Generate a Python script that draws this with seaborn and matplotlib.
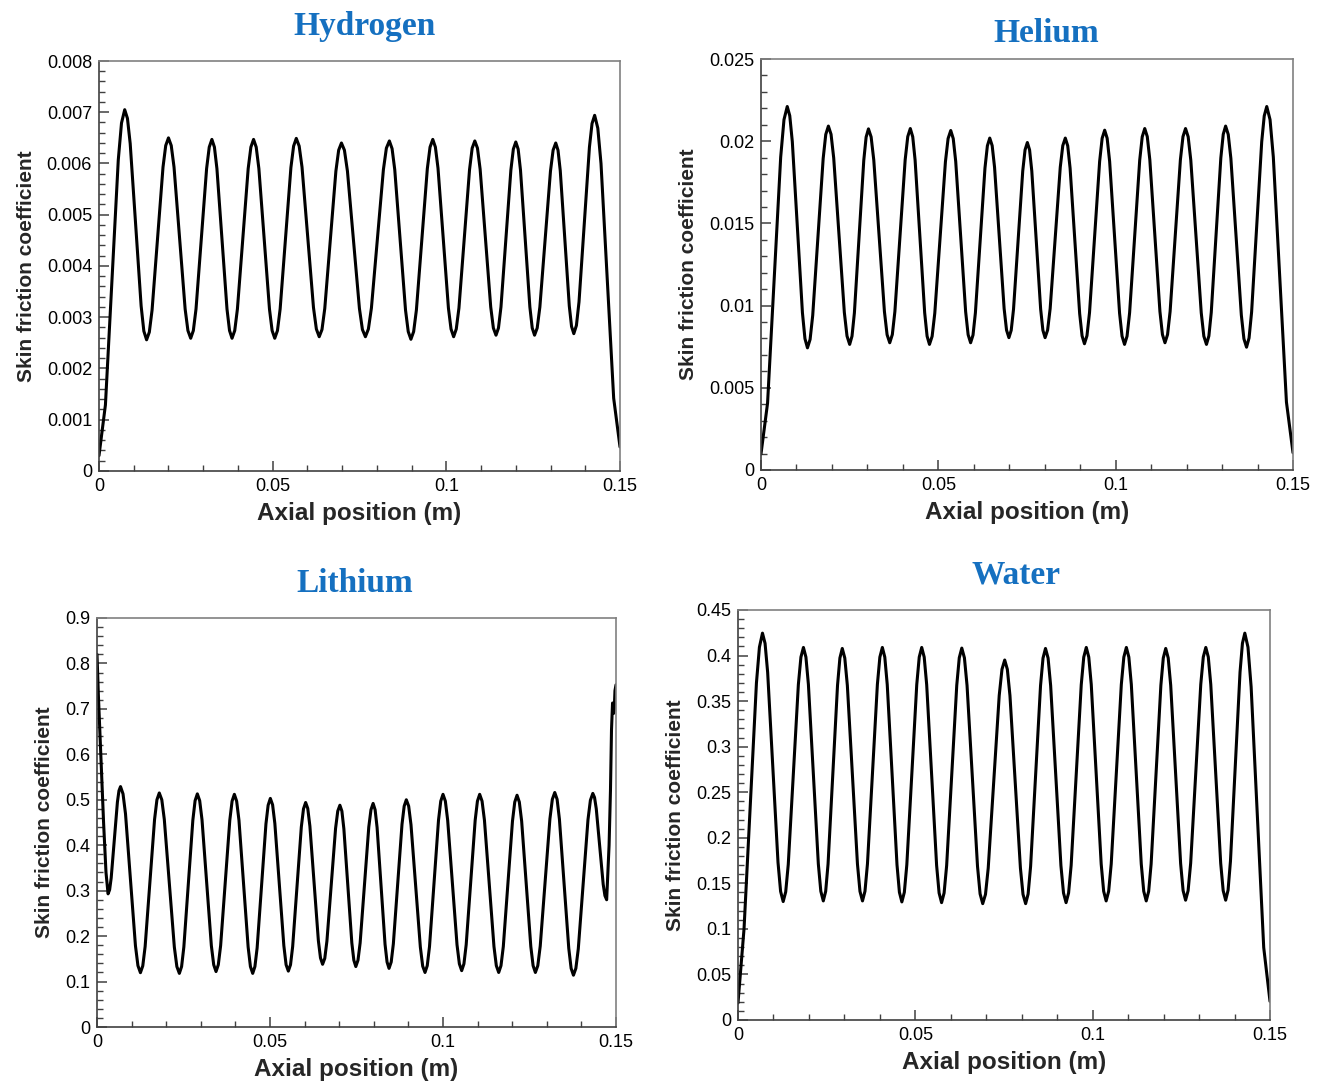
import matplotlib
matplotlib.use("Agg")
import matplotlib.pyplot as plt
from matplotlib.ticker import MultipleLocator, FuncFormatter
import seaborn as sns
import pandas as pd

# ---- Skin friction coefficient along the axial position (m) ----
hydrogen_x = [0.0,
              0.00185, 0.00555, 0.00648, 0.0074,
              0.00819, 0.00898, 0.01213, 0.01291, 0.0137,
              0.01449, 0.01528, 0.01843, 0.01921, 0.0200,
              0.0208, 0.0216, 0.0248, 0.0256, 0.0264,
              0.02716, 0.02793, 0.03098, 0.03174, 0.0325,
              0.03323, 0.03395, 0.03685, 0.03758, 0.0383,
              0.03908, 0.03985, 0.04295, 0.04373, 0.0445,
              0.04526, 0.04603, 0.04908, 0.04984, 0.0506,
              0.05138, 0.05215, 0.05525, 0.05603, 0.0568,
              0.05763, 0.05845, 0.06175, 0.06258, 0.0634,
              0.0642, 0.0650, 0.0682, 0.0690, 0.0698,
              0.07066, 0.07153, 0.07498, 0.07584, 0.0767,
              0.07756, 0.07843, 0.08188, 0.08274, 0.0836,
              0.08438, 0.08515, 0.08825, 0.08903, 0.0898,
              0.09059, 0.09138, 0.09453, 0.09531, 0.0961,
              0.09685, 0.0976, 0.1006, 0.10135, 0.1021,
              0.10286, 0.10363, 0.10668, 0.10744, 0.1082,
              0.10896, 0.10973, 0.11278, 0.11354, 0.1143,
              0.11501, 0.11573, 0.11858, 0.11929, 0.1200,
              0.12068, 0.12135, 0.12405, 0.12473, 0.1254,
              0.12616, 0.12693, 0.12998, 0.13074, 0.1315,
              0.13215, 0.1328, 0.1354, 0.13605, 0.1367,
              0.13745, 0.1382, 0.1412, 0.14195, 0.1427,
              0.14361, 0.14453, 0.14818, 0.1500]
hydrogen_cf = [0.00030,
               0.00129, 0.00607, 0.00679, 0.00705,
               0.00688, 0.00639, 0.00322, 0.00273, 0.00256,
               0.00271, 0.00314, 0.00593, 0.00635, 0.00650,
               0.00635, 0.00593, 0.00316, 0.00274, 0.00259,
               0.00274, 0.00316, 0.00590, 0.00632, 0.00647,
               0.00632, 0.00590, 0.00316, 0.00274, 0.00259,
               0.00274, 0.00316, 0.00590, 0.00632, 0.00647,
               0.00632, 0.00590, 0.00316, 0.00274, 0.00259,
               0.00274, 0.00316, 0.00592, 0.00634, 0.00649,
               0.00634, 0.00593, 0.00319, 0.00277, 0.00262,
               0.00276, 0.00317, 0.00585, 0.00626, 0.00640,
               0.00626, 0.00585, 0.00317, 0.00276, 0.00262,
               0.00277, 0.00318, 0.00588, 0.00630, 0.00644,
               0.00629, 0.00588, 0.00314, 0.00272, 0.00257,
               0.00272, 0.00314, 0.00590, 0.00632, 0.00647,
               0.00632, 0.00591, 0.00318, 0.00277, 0.00262,
               0.00277, 0.00318, 0.00588, 0.00630, 0.00644,
               0.00630, 0.00589, 0.00320, 0.00279, 0.00265,
               0.00279, 0.00320, 0.00587, 0.00628, 0.00642,
               0.00628, 0.00587, 0.00320, 0.00279, 0.00265,
               0.00279, 0.00320, 0.00585, 0.00626, 0.00640,
               0.00626, 0.00586, 0.00322, 0.00282, 0.00268,
               0.00284, 0.00330, 0.00632, 0.00678, 0.00694,
               0.00669, 0.00600, 0.00142, 0.00047]

helium_x = [0.0,
            0.00185, 0.00555, 0.00648, 0.0074,
            0.00811, 0.00883, 0.01168, 0.01239, 0.0131,
            0.01384, 0.01458, 0.01753, 0.01826, 0.0190,
            0.01975, 0.0205, 0.0235, 0.02425, 0.0250,
            0.02566, 0.02633, 0.02898, 0.02964, 0.0303,
            0.03105, 0.0318, 0.0348, 0.03555, 0.0363,
            0.03703, 0.03775, 0.04065, 0.04138, 0.0421,
            0.04278, 0.04345, 0.04615, 0.04683, 0.0475,
            0.04825, 0.0490, 0.0520, 0.05275, 0.0535,
            0.0542, 0.0549, 0.0577, 0.0584, 0.0591,
            0.05978, 0.06045, 0.06315, 0.06383, 0.0645,
            0.06518, 0.06585, 0.06855, 0.06923, 0.0699,
            0.07055, 0.0712, 0.0738, 0.07445, 0.0751,
            0.07573, 0.07635, 0.07885, 0.07948, 0.0801,
            0.08081, 0.08153, 0.08438, 0.08509, 0.0858,
            0.08648, 0.08715, 0.08985, 0.09053, 0.0912,
            0.09191, 0.09263, 0.09548, 0.09619, 0.0969,
            0.0976, 0.0983, 0.1011, 0.1018, 0.1025,
            0.10321, 0.10393, 0.10678, 0.10749, 0.1082,
            0.10891, 0.10963, 0.11248, 0.11319, 0.1139,
            0.11463, 0.11535, 0.11825, 0.11898, 0.1197,
            0.12044, 0.12118, 0.12413, 0.12486, 0.1256,
            0.12628, 0.12695, 0.12965, 0.13033, 0.1310,
            0.13174, 0.13248, 0.13543, 0.13616, 0.1369,
            0.13761, 0.13833, 0.14118, 0.14189, 0.1426,
            0.14353, 0.14445, 0.14815, 0.1500]
helium_cf = [0.00098,
             0.00407, 0.01903, 0.02131, 0.02211,
             0.02155, 0.01997, 0.00957, 0.00799, 0.00743,
             0.00794, 0.00940, 0.01895, 0.02041, 0.02092,
             0.02042, 0.01898, 0.00958, 0.00815, 0.00764,
             0.00814, 0.00955, 0.01884, 0.02025, 0.02075,
             0.02026, 0.01885, 0.00964, 0.00823, 0.00774,
             0.00824, 0.00964, 0.01887, 0.02028, 0.02077,
             0.02027, 0.01885, 0.00956, 0.00814, 0.00764,
             0.00813, 0.00954, 0.01875, 0.02016, 0.02065,
             0.02016, 0.01877, 0.00963, 0.00823, 0.00774,
             0.00821, 0.00956, 0.01837, 0.01972, 0.02019,
             0.01973, 0.01842, 0.00982, 0.00851, 0.00805,
             0.00850, 0.00978, 0.01819, 0.01947, 0.01992,
             0.01947, 0.01819, 0.00978, 0.00850, 0.00805,
             0.00851, 0.00982, 0.01842, 0.01973, 0.02019,
             0.01972, 0.01836, 0.00951, 0.00816, 0.00768,
             0.00817, 0.00958, 0.01877, 0.02018, 0.02067,
             0.02018, 0.01877, 0.00954, 0.00814, 0.00764,
             0.00814, 0.00956, 0.01885, 0.02027, 0.02077,
             0.02028, 0.01887, 0.00964, 0.00824, 0.00774,
             0.00824, 0.00964, 0.01887, 0.02028, 0.02077,
             0.02027, 0.01885, 0.00956, 0.00814, 0.00764,
             0.00815, 0.00958, 0.01898, 0.02042, 0.02092,
             0.02041, 0.01896, 0.00943, 0.00798, 0.00747,
             0.00803, 0.00961, 0.01997, 0.02154, 0.02211,
             0.02131, 0.01904, 0.00413, 0.00105]

lithium_x = [0.0, 0.0004, 0.0011, 0.0019, 0.0026, 0.0032,
             0.00365, 0.0041, 0.0059, 0.00635, 0.0068,
             0.00752, 0.00824, 0.01111, 0.01183, 0.01255,
             0.01323, 0.01391, 0.01664, 0.01732, 0.0180,
             0.01873, 0.01945, 0.02235, 0.02308, 0.0238,
             0.02445, 0.0251, 0.0277, 0.02835, 0.0290,
             0.02968, 0.03035, 0.03305, 0.03373, 0.0344,
             0.03506, 0.03573, 0.03838, 0.03904, 0.0397,
             0.04036, 0.04103, 0.04368, 0.04434, 0.0450,
             0.04564, 0.04628, 0.04883, 0.04946, 0.0501,
             0.05075, 0.0514, 0.0540, 0.05465, 0.0553,
             0.05593, 0.05655, 0.05905, 0.05968, 0.0603,
             0.06091, 0.06153, 0.06398, 0.06459, 0.0652,
             0.06583, 0.06645, 0.06895, 0.06958, 0.0702,
             0.07078, 0.07135, 0.07365, 0.07423, 0.0748,
             0.07543, 0.07605, 0.07855, 0.07918, 0.0798,
             0.08038, 0.08095, 0.08325, 0.08383, 0.0844,
             0.08503, 0.08565, 0.08815, 0.08878, 0.0894,
             0.09008, 0.09075, 0.09345, 0.09413, 0.0948,
             0.09545, 0.0961, 0.0987, 0.09935, 0.1000,
             0.10068, 0.10135, 0.10405, 0.10473, 0.1054,
             0.10605, 0.1067, 0.1093, 0.10995, 0.1106,
             0.11129, 0.11198, 0.11473, 0.11541, 0.1161,
             0.11676, 0.11743, 0.12008, 0.12074, 0.1214,
             0.12206, 0.12273, 0.12538, 0.12604, 0.1267,
             0.1274, 0.1281, 0.1309, 0.1316, 0.1323,
             0.13298, 0.13365, 0.13635, 0.13703, 0.1377,
             0.1384, 0.1391, 0.1419, 0.1426, 0.1433,
             0.1438, 0.1443, 0.1463, 0.1468, 0.1473,
             0.1480, 0.1484, 0.1487, 0.1490, 0.1493, 0.1495, 0.1497, 0.1500]
lithium_cf = [0.820, 0.730, 0.600, 0.450, 0.340, 0.293,
              0.302, 0.328, 0.495, 0.520, 0.529,
              0.513, 0.469, 0.179, 0.135, 0.1195,
              0.1345, 0.177, 0.457, 0.500, 0.515,
              0.500, 0.457, 0.176, 0.133, 0.118,
              0.133, 0.176, 0.455, 0.498, 0.513,
              0.498, 0.456, 0.179, 0.137, 0.122,
              0.137, 0.179, 0.455, 0.497, 0.512,
              0.497, 0.455, 0.176, 0.133, 0.118,
              0.133, 0.174, 0.447, 0.488, 0.503,
              0.489, 0.448, 0.179, 0.137, 0.123,
              0.137, 0.177, 0.440, 0.480, 0.494,
              0.481, 0.442, 0.190, 0.152, 0.138,
              0.151, 0.189, 0.437, 0.475, 0.488,
              0.475, 0.436, 0.185, 0.147, 0.133,
              0.147, 0.185, 0.440, 0.478, 0.492,
              0.478, 0.439, 0.182, 0.143, 0.129,
              0.143, 0.183, 0.446, 0.486, 0.500,
              0.486, 0.445, 0.176, 0.134, 0.120,
              0.135, 0.177, 0.455, 0.497, 0.512,
              0.497, 0.455, 0.181, 0.139, 0.124,
              0.139, 0.181, 0.455, 0.497, 0.512,
              0.497, 0.455, 0.177, 0.135, 0.120,
              0.135, 0.177, 0.453, 0.495, 0.510,
              0.495, 0.453, 0.177, 0.135, 0.120,
              0.135, 0.178, 0.458, 0.501, 0.516,
              0.501, 0.457, 0.173, 0.129, 0.114,
              0.129, 0.172, 0.456, 0.499, 0.514,
              0.505, 0.480, 0.314, 0.289, 0.280,
              0.400, 0.520, 0.654, 0.713, 0.690, 0.700, 0.740, 0.753]

water_x = [0.0,
           0.0017, 0.0052, 0.00604, 0.0069,
           0.00763, 0.00836, 0.01128, 0.01201, 0.01274,
           0.01345, 0.01417, 0.01702, 0.01774, 0.01845,
           0.01915, 0.01985, 0.02265, 0.02335, 0.02405,
           0.02472, 0.02539, 0.02806, 0.02873, 0.0294,
           0.03011, 0.03083, 0.03368, 0.03439, 0.0351,
           0.0358, 0.0365, 0.0393, 0.0400, 0.0407,
           0.04139, 0.04208, 0.04483, 0.04551, 0.0462,
           0.0469, 0.0476, 0.0504, 0.0511, 0.0518,
           0.0525, 0.0532, 0.0560, 0.0567, 0.0574,
           0.05811, 0.05883, 0.06168, 0.06239, 0.0631,
           0.06384, 0.06458, 0.06753, 0.06826, 0.0690,
           0.06978, 0.07055, 0.07365, 0.07443, 0.0752,
           0.07594, 0.07668, 0.07963, 0.08036, 0.0811,
           0.0818, 0.0825, 0.0853, 0.0860, 0.0867,
           0.08743, 0.08815, 0.09105, 0.09178, 0.0925,
           0.09321, 0.09393, 0.09678, 0.09749, 0.0982,
           0.0989, 0.0996, 0.1024, 0.1031, 0.1038,
           0.10451, 0.10523, 0.10808, 0.10879, 0.1095,
           0.1102, 0.1109, 0.1137, 0.1144, 0.1151,
           0.11579, 0.11648, 0.11923, 0.11991, 0.1206,
           0.1213, 0.1220, 0.1248, 0.1255, 0.1262,
           0.12691, 0.12763, 0.13048, 0.13119, 0.1319,
           0.1326, 0.1333, 0.1361, 0.1368, 0.1375,
           0.13818, 0.13885, 0.14155, 0.14223, 0.1429,
           0.14379, 0.14468, 0.14823, 0.1500]
water_cf = [0.0187,
            0.100, 0.370, 0.4092, 0.4246,
            0.4134, 0.3816, 0.1730, 0.1412, 0.1300,
            0.1406, 0.1707, 0.3682, 0.3983, 0.4089,
            0.3983, 0.3683, 0.1713, 0.1413, 0.1307,
            0.1412, 0.1712, 0.3673, 0.3973, 0.4078,
            0.3973, 0.3673, 0.1712, 0.1412, 0.1307,
            0.1413, 0.1713, 0.3683, 0.3983, 0.4089,
            0.3983, 0.3681, 0.1704, 0.1402, 0.1296,
            0.1402, 0.1704, 0.3681, 0.3983, 0.4089,
            0.3983, 0.3680, 0.1697, 0.1394, 0.1288,
            0.1394, 0.1696, 0.3674, 0.3976, 0.4082,
            0.3975, 0.3672, 0.1687, 0.1384, 0.1277,
            0.1379, 0.1667, 0.3561, 0.3849, 0.3951,
            0.3849, 0.3561, 0.1667, 0.1379, 0.1277,
            0.1383, 0.1686, 0.3669, 0.3972, 0.4078,
            0.3972, 0.3671, 0.1695, 0.1394, 0.1288,
            0.1394, 0.1697, 0.3680, 0.3983, 0.4089,
            0.3983, 0.3683, 0.1713, 0.1413, 0.1307,
            0.1413, 0.1713, 0.3683, 0.3983, 0.4089,
            0.3983, 0.3683, 0.1713, 0.1413, 0.1307,
            0.1412, 0.1712, 0.3673, 0.3973, 0.4078,
            0.3973, 0.3675, 0.1718, 0.1420, 0.1315,
            0.1420, 0.1720, 0.3684, 0.3984, 0.4089,
            0.3984, 0.3684, 0.1720, 0.1420, 0.1315,
            0.1426, 0.1743, 0.3818, 0.4135, 0.4246,
            0.4092, 0.3656, 0.0795, 0.0205]

titles = ["Hydrogen", "Helium", "Lithium", "Water"]
x_label = "Axial position (m)"
y_label = "Skin friction coefficient"

sns.set_theme(style="ticks")
plt.rcParams["font.family"] = ["Liberation Sans", "DejaVu Sans"]

fig = plt.figure(figsize=(13.21, 10.84), dpi=100)
W, H = 1321.0, 1084.0


def rect(left, top, right, bottom):
    return [left / W, 1 - bottom / H, (right - left) / W, (bottom - top) / H]


panels = [
    (titles[0], hydrogen_x, hydrogen_cf, 0.008, 0.001, 0.0002, rect(99, 61, 620, 471), (365, 27)),
    (titles[1], helium_x, helium_cf, 0.025, 0.005, 0.001, rect(761, 59, 1293, 470), (1046, 34)),
    (titles[2], lithium_x, lithium_cf, 0.9, 0.1, 0.02, rect(97, 618, 616, 1027), (355, 584)),
    (titles[3], water_x, water_cf, 0.45, 0.05, 0.01, rect(738, 610, 1270, 1020), (1016, 575)),
]

fmt = FuncFormatter(lambda v, pos: "{:g}".format(round(v, 6)))

for title, xs, ys, ymax, ymaj, ymin, r, (tx, ty) in panels:
    ax = fig.add_axes(r)
    df = pd.DataFrame({"x": xs, "cf": ys})
    sns.lineplot(data=df, x="x", y="cf", ax=ax, color="black", linewidth=2.2,
                 sort=False, estimator=None, solid_joinstyle="round",
                 solid_capstyle="round")
    ax.set_xlim(0, 0.15)
    ax.set_ylim(0, ymax)
    ax.xaxis.set_major_locator(MultipleLocator(0.05))
    ax.xaxis.set_minor_locator(MultipleLocator(0.01))
    ax.yaxis.set_major_locator(MultipleLocator(ymaj))
    ax.yaxis.set_minor_locator(MultipleLocator(ymin))
    ax.xaxis.set_major_formatter(fmt)
    ax.yaxis.set_major_formatter(fmt)
    ax.tick_params(which="both", direction="in", top=False, right=False,
                   color="#404040", labelsize=13, labelcolor="black")
    ax.tick_params(which="major", length=7, width=1.1, pad=5)
    ax.tick_params(which="minor", length=4, width=1.0)
    for side in ("left", "bottom"):
        ax.spines[side].set_color("#404040")
        ax.spines[side].set_linewidth(1.2)
    for side in ("top", "right"):
        ax.spines[side].set_color("#808080")
        ax.spines[side].set_linewidth(1.2)
    ax.set_xlabel(x_label, fontsize=17.5, fontweight="bold", labelpad=5)
    ax.set_ylabel(y_label, fontsize=15, fontweight="bold", labelpad=8)
    fig.text(tx / W, 1 - ty / H, title, ha="center", va="center",
             fontsize=24, fontweight="bold", color="#1570C0",
             family=["Liberation Serif", "DejaVu Serif"])

fig.savefig("out.png", dpi=100, facecolor="white")
